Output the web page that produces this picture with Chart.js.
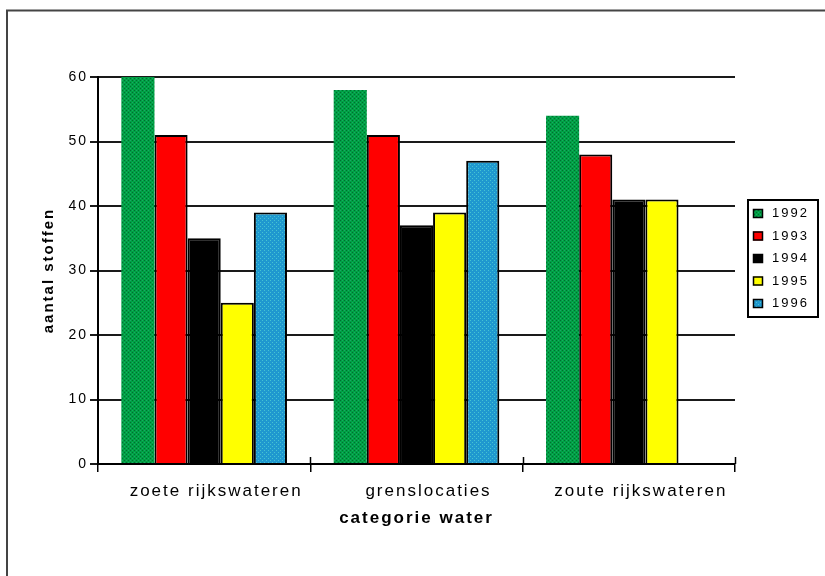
<!DOCTYPE html>
<html>
<head>
<meta charset="utf-8">
<script src="https://cdn.jsdelivr.net/npm/chart.js@4/dist/chart.umd.min.js"></script>
<style>
  html, body { margin: 0; padding: 0; background: #fff; }
  #wrap { width: 825px; height: 576px; position: relative; }
</style>
</head>
<body>
<div id="wrap"><canvas id="c" width="825" height="576"></canvas></div>
<script>
// Aantal stoffen per categorie water, 1992-1996
const categories = ['zoete rijkswateren', 'grenslocaties', 'zoute rijkswateren'];
const years = ['1992', '1993', '1994', '1995', '1996'];
const v1992 = [60, 58, 54];
const v1993 = [51, 51, 48];
const v1994 = [35, 37, 41];
const v1995 = [25, 39, 41];
const v1996 = [39, 47, null];
const yTicks = [0, 10, 20, 30, 40, 50, 60];

const canvas = document.getElementById('c');
const ctx = canvas.getContext('2d');

// small dotted fill patterns for the green and blue bars
function dotPattern(base, dark, light) {
  const p = document.createElement('canvas');
  p.width = 4; p.height = 4;
  const g = p.getContext('2d');
  g.fillStyle = base; g.fillRect(0, 0, 4, 4);
  g.fillStyle = dark; g.fillRect(0, 0, 1, 1); g.fillRect(2, 2, 1, 1);
  g.fillStyle = light; g.fillRect(2, 0, 1, 1); g.fillRect(0, 2, 1, 1);
  return ctx.createPattern(p, 'repeat');
}
const greenFill = dotPattern('#00a044', '#006e30', '#1aa866');
const blueFill = dotPattern('#1f98cf', '#1f98cf', '#46c3d2');

const seriesValues = [v1992, v1993, v1994, v1995, v1996];
const fills = [greenFill, '#ff0000', '#000000', '#ffff00', blueFill];
const borderWidths = [0, 2, 2, 2, 2];

const FONT = '"Liberation Sans", Arial, sans-serif';
const SPACING = '2px';

// outer frame, letter spacing, tick marks crossing the x axis, boxed legend
const decorations = {
  id: 'decorations',
  beforeLayout(chart) { chart.ctx.letterSpacing = SPACING; },
  beforeDraw(chart) {
    const c = chart.ctx;
    c.letterSpacing = SPACING;
    c.save();
    c.strokeStyle = '#444';
    c.lineWidth = 2;
    c.beginPath();
    c.moveTo(7, 576); c.lineTo(7, 10.5); c.lineTo(825, 10.5);
    c.stroke();
    c.restore();
  },
  afterDraw(chart) {
    const c = chart.ctx;
    const area = chart.chartArea;
    const n = chart.data.labels.length;
    const w = (area.right - area.left) / n;
    c.save();
    c.strokeStyle = '#000';
    c.lineWidth = 1.5;
    for (let i = 1; i <= n; i++) {
      const x = Math.round(area.left + i * w) + 0.5;
      c.beginPath(); c.moveTo(x, area.bottom - 7); c.lineTo(x, area.bottom); c.stroke();
    }
    // legend box
    const lx = 748, ly = 200, lw = 70, lh = 117;
    c.strokeStyle = '#000';
    c.lineWidth = 2;
    c.strokeRect(lx, ly, lw, lh);
    c.font = '13px ' + FONT;
    c.textBaseline = 'middle';
    chart.data.datasets.forEach((ds, i) => {
      const cy = 213 + i * 22.5;
      c.fillStyle = ds.backgroundColor;
      c.fillRect(753, cy - 4, 10, 9);
      c.lineWidth = 1.5;
      c.strokeStyle = '#000';
      c.strokeRect(753.5, cy - 3.5, 9, 8);
      c.fillStyle = '#000';
      c.fillText(ds.label, 772, cy + 0.5);
    });
    c.restore();
  }
};

new Chart(ctx, {
  type: 'bar',
  data: {
    labels: categories,
    datasets: years.map((y, i) => ({
      label: y,
      data: seriesValues[i],
      backgroundColor: fills[i],
      borderColor: '#000',
      borderWidth: borderWidths[i],
      borderSkipped: 'start'
    }))
  },
  options: {
    responsive: false,
    animation: false,
    devicePixelRatio: 1,
    layout: { padding: { left: 40, top: 77, right: 90, bottom: 0 } },
    datasets: { bar: { categoryPercentage: 0.78, barPercentage: 1.0 } },
    plugins: { legend: { display: false }, tooltip: { enabled: false } },
    scales: {
      x: {
        grid: { drawOnChartArea: false, offset: true, tickLength: 8, color: '#000', lineWidth: 1.5 },
        border: { color: '#000', width: 2 },
        ticks: { color: '#000', font: { family: FONT, size: 17 }, padding: 9, maxRotation: 0, labelOffset: 12 },
        title: {
          display: true, text: 'categorie water', color: '#000',
          font: { family: FONT, size: 17, weight: 'bold' },
          padding: { top: 0, bottom: 47 }
        },
        afterFit(s) { s.height = 112; }
      },
      y: {
        min: 0, max: 60,
        afterBuildTicks(s) { s.ticks = yTicks.map(v => ({ value: v })); },
        grid: { color: '#1a1a1a', lineWidth: 2, tickLength: 8 },
        border: { color: '#000', width: 2 },
        ticks: { color: '#000', font: { family: FONT, size: 14 }, padding: 2 },
        title: {
          display: true, text: 'aantal stoffen', color: '#000',
          font: { family: FONT, size: 15, weight: 'bold' },
          padding: { top: 0, bottom: 0 }
        },
        afterFit(s) { s.width = 58; }
      }
    }
  },
  plugins: [decorations]
});
</script>
</body>
</html>
